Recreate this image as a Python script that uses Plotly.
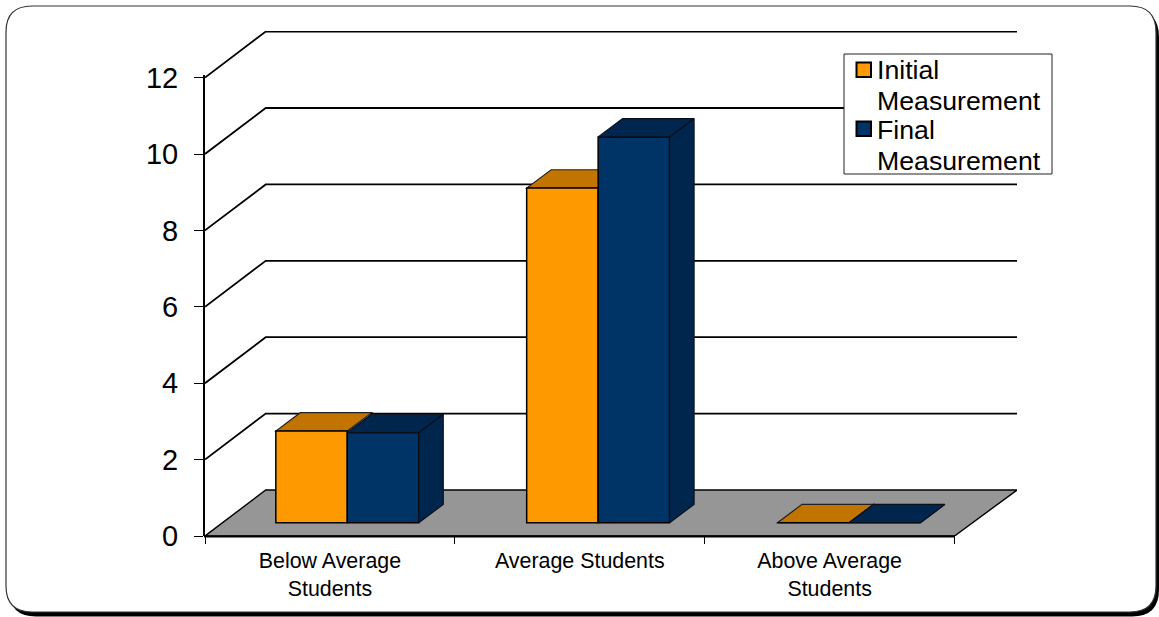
import plotly.graph_objects as go

# Data
categories = ["Below Average<br>Students", "Average Students", "Above Average<br>Students"]
initial_measurement = [2.4, 8.76, 0]
final_measurement = [2.36, 10.1, 0]
y_ticks = [0, 2, 4, 6, 8, 10, 12]
legend_lines = [["Initial", "Measurement"], ["Final", "Measurement"]]

# Page geometry in pixels
W, H = 1159, 617
L, R, T, B = 205, 1017, 31, 536

# Axis scales
X_MAX = 3.25
Y_MAX = 13.22

# Oblique projection of the depth direction, in axis units
WALL_DX, WALL_DY = 0.243, 1.204
INSET_DX, INSET_DY = 0.0695, 0.348
BAR_DX, BAR_DY = 0.098, 0.48
BAR_W = 0.286
GROUP_STEP = 1.004

ORANGE, ORANGE_DARK = "#FF9900", "#C17400"
NAVY, NAVY_DARK = "#003366", "#00264D"
FLOOR = "#969696"


def px(x):
    return (x - L) / (R - L)


def py(y):
    return (B - y) / (B - T)


def round_rect(x0, y0, x1, y1, r):
    a, b, c, d = px(x0), px(x1), py(y0), py(y1)
    ax, ay = r / (R - L), r / (B - T)
    return (
        f"M{a + ax},{c} L{b - ax},{c} Q{b},{c} {b},{c - ay} "
        f"L{b},{d + ay} Q{b},{d} {b - ax},{d} "
        f"L{a + ax},{d} Q{a},{d} {a},{d + ay} "
        f"L{a},{c - ay} Q{a},{c} {a + ax},{c} Z"
    )


def poly_path(points):
    return "M" + " L".join(f"{x},{y}" for x, y in points) + " Z"


def top_face(x, v):
    y = INSET_DY + v
    return [(x, y), (x + BAR_W, y), (x + BAR_W + BAR_DX, y + BAR_DY), (x + BAR_DX, y + BAR_DY)]


def side_face(x, v):
    r = x + BAR_W
    return [(r, INSET_DY), (r, INSET_DY + v), (r + BAR_DX, INSET_DY + v + BAR_DY), (r + BAR_DX, INSET_DY + BAR_DY)]


n = len(categories)
x_initial = [i * GROUP_STEP + 0.5 + INSET_DX - BAR_W for i in range(n)]
x_final = [i * GROUP_STEP + 0.5 + INSET_DX for i in range(n)]

shapes = [
    # Card with its offset shadow
    dict(type="path", xref="paper", yref="paper", layer="below", path=round_rect(9, 10, 1159, 616.5, 27),
         fillcolor="black", line=dict(width=0)),
    dict(type="path", xref="paper", yref="paper", layer="below", path=round_rect(6, 6, 1156, 612, 26),
         fillcolor="white", line=dict(color="#333333", width=1.2)),
    # Floor of the chart box
    dict(type="path", xref="x", yref="y", layer="below",
         path=poly_path([(0, 0), (3, 0), (X_MAX, WALL_DY), (WALL_DX, WALL_DY)]),
         fillcolor=FLOOR, line=dict(color="black", width=1.4)),
]

# Gridlines on the side wall and back wall
for v in y_ticks[1:]:
    shapes.append(dict(type="path", xref="x", yref="y", layer="below",
                       path=f"M0,{v} L{WALL_DX},{v + WALL_DY} L{X_MAX},{v + WALL_DY}",
                       line=dict(color="black", width=1.8)))

# Orange top faces sit behind the front faces
for x, v in zip(x_initial, initial_measurement):
    shapes.append(dict(type="path", xref="x", yref="y", layer="below", path=poly_path(top_face(x, v)),
                       fillcolor=ORANGE_DARK, line=dict(color="#222222", width=1.2)))

# Baseline of the floor, running only as far as the last category
shapes.append(dict(type="line", xref="paper", yref="paper", layer="above",
                   x0=px(L - 1), x1=px(L + 750), y0=py(B + 0.5), y1=py(B + 0.5),
                   line=dict(color="black", width=2)))

# Legend box and swatches
shapes.append(dict(type="rect", xref="paper", yref="paper", layer="above",
                   x0=px(844), x1=px(1052), y0=py(54), y1=py(174),
                   fillcolor="white", line=dict(color="#222222", width=1)))
for top, color in zip((62.5, 121.5), (ORANGE, NAVY)):
    shapes.append(dict(type="rect", xref="paper", yref="paper", layer="above",
                       x0=px(856.5), x1=px(871), y0=py(top), y1=py(top + 14.5),
                       fillcolor=color, line=dict(color="black", width=2)))

annotations = []
line_y = 70.5
for entry in legend_lines:
    for text in entry:
        annotations.append(dict(xref="paper", yref="paper", x=px(875.5), y=py(line_y), text=text,
                                showarrow=False, xanchor="left", yanchor="middle", align="left",
                                borderpad=0, font=dict(family="Liberation Sans", size=26.7, color="black")))
        line_y += 30

fig = go.Figure()

# Front faces
fig.add_bar(name="Initial Measurement", x=x_initial, y=initial_measurement, base=INSET_DY, width=BAR_W,
            offset=0, marker=dict(color=ORANGE, line=dict(color="black", width=1.5)))
fig.add_bar(name="Final Measurement", x=x_final, y=final_measurement, base=INSET_DY, width=BAR_W,
            offset=0, marker=dict(color=NAVY, line=dict(color="black", width=1.5)))

# Navy top and side faces
for x, v in zip(x_final, final_measurement):
    for face in (side_face(x, v), top_face(x, v)):
        xs, ys = zip(*face)
        fig.add_scatter(x=list(xs) + [xs[0]], y=list(ys) + [ys[0]], mode="lines", fill="toself",
                        fillcolor=NAVY_DARK, line=dict(color="#0A0F1A", width=1.2),
                        hoverinfo="skip", showlegend=False)

fig.update_layout(
    width=W, height=H, autosize=False,
    margin=dict(l=L, r=W - R, t=T, b=H - B, pad=0),
    paper_bgcolor="white", plot_bgcolor="rgba(0,0,0,0)",
    barmode="overlay", showlegend=False,
    font=dict(family="Liberation Sans", color="black"),
    shapes=shapes, annotations=annotations,
)
fig.update_xaxes(
    range=[0, X_MAX], tickmode="array", tickvals=[i + 0.5 for i in range(n)], ticktext=categories,
    ticks="", showgrid=False, zeroline=False, showline=False,
    tickfont=dict(size=21.4), ticklabelstandoff=10,
    minor=dict(tickmode="array", tickvals=list(range(n + 1)), ticks="outside", ticklen=7,
               tickcolor="black", tickwidth=1, showgrid=False),
)
fig.update_yaxes(
    range=[0, Y_MAX], tickmode="array", tickvals=y_ticks, ticks="outside", ticklen=9,
    tickcolor="black", tickwidth=1, showgrid=False, zeroline=False,
    showline=True, linecolor="black", linewidth=2,
    tickfont=dict(size=29), ticklabelstandoff=10,
)

# The y axis line stops at the 12 tick, so the part above it is masked in white
fig.add_shape(type="line", xref="paper", yref="paper", layer="above",
              x0=px(L - 0.5), x1=px(L - 0.5), y0=py(T - 2), y1=py(75),
              line=dict(color="white", width=3))

fig.write_html("out.html")
